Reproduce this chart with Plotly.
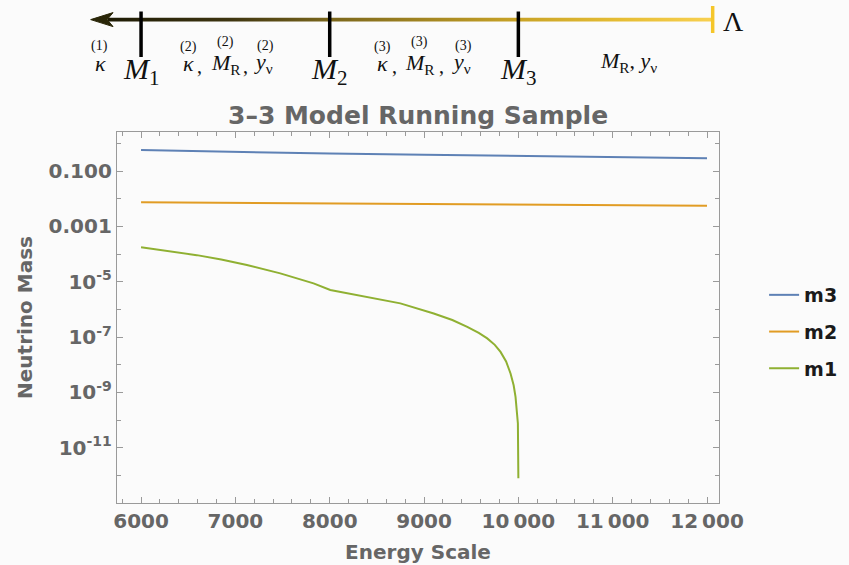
import plotly.graph_objects as go

# ---------------- data ----------------
energy_coarse = [6000, 7000, 8000, 9000, 10000, 11000, 12000]
m3_values = [0.574, 0.490, 0.427, 0.389, 0.355, 0.316, 0.288]
m2_values = [0.00736, 0.00700, 0.00660, 0.00630, 0.00600, 0.00580, 0.00556]

energy_m1 = [6000, 6300, 6591, 6850, 7122, 7476, 7829, 8006, 8396, 8749, 9103, 9300,
             9458, 9580, 9670, 9750, 9811, 9870, 9917, 9950, 9970, 9985, 9995, 10000]
m1_values = [1.74e-4, 1.26e-4, 9.1e-5, 6.3e-5, 4.0e-5, 2.0e-5, 8.7e-6, 5.0e-6,
             2.84e-6, 1.64e-6, 7.1e-7, 4.1e-7, 2.34e-7, 1.4e-7, 8.9e-8, 5.2e-8,
             2.9e-8, 1.3e-8, 4.8e-9, 1.8e-9, 6.9e-10, 2.4e-10, 7.5e-11, 7.8e-13]

series_names = ["m3", "m2", "m1"]
series_colors = ["#5e81b5", "#e19c24", "#8fb032"]

y_major_vals = [1e-1, 1e-3, 1e-5, 1e-7, 1e-9, 1e-11]
y_major_text = ["0.100", "0.001", "10<sup>-5</sup>", "10<sup>-7</sup>",
                "10<sup>-9</sup>", "10<sup>-11</sup>"]
y_minor_vals = [1, 1e-2, 1e-4, 1e-6, 1e-8, 1e-10, 1e-12]
x_tick_vals = [6000, 7000, 8000, 9000, 10000, 11000, 12000]
x_tick_text = ["6000", "7000", "8000", "9000", "10\u2009000", "11\u2009000", "12\u2009000"]

# scale diagram (threshold positions on the energy axis)
thresholds = [6000, 8000, 10000]
threshold_labels = ["<i>M</i><sub>1</sub>", "<i>M</i><sub>2</sub>", "<i>M</i><sub>3</sub>"]
cutoff_pos = 12060
arrow_tip = 5466

# ---------------- layout geometry ----------------
W, H = 849, 565
plot_left, plot_right = 117, 719
plot_top, plot_bottom = 132, 503
x_range = [5745, 12127]
scale = (plot_right - plot_left) / (x_range[1] - x_range[0])
x2_range = [x_range[0] - plot_left / scale, x_range[1] + (W - plot_right) / scale]
area_h = plot_bottom  # margin bottom = H - plot_bottom, top = 0
gray = "#666666"
frame = "#9a9a9a"

fig = go.Figure()

traces = [(energy_coarse, m3_values), (energy_coarse, m2_values), (energy_m1, m1_values)]
for (xs, ys), name, col in zip(traces, series_names, series_colors):
    fig.add_trace(go.Scatter(x=xs, y=ys, name=name, mode="lines",
                             line=dict(color=col, width=2),
                             legendgroup=name))

# ---- scale diagram on top ----
shaft_y0, shaft_y1 = 17.8, 21.4
fig.add_trace(go.Scatter(
    x=[arrow_tip + 180, cutoff_pos, cutoff_pos, arrow_tip + 180, arrow_tip + 180],
    y=[shaft_y0, shaft_y0, shaft_y1, shaft_y1, shaft_y0],
    xaxis="x2", yaxis="y2", mode="lines", fill="toself",
    line=dict(width=0, color="rgba(0,0,0,0)"),
    fillgradient=dict(type="horizontal",
                      colorscale=[[0, "#1e1b05"], [0.2, "#3d3410"], [0.365, "#7a661c"],
                                  [0.68, "#c9a326"], [0.85, "#e6bd34"], [1, "#f8d050"]]),
    showlegend=False, hoverinfo="skip"))
# arrowhead
fig.add_trace(go.Scatter(
    x=[arrow_tip, arrow_tip + 237, arrow_tip + 175, arrow_tip + 237, arrow_tip],
    y=[19.6, 12.6, 19.6, 26.6, 19.6],
    xaxis="x2", yaxis="y2", mode="lines", fill="toself", fillcolor="#2a2608",
    line=dict(width=1, color="#2a2608"), showlegend=False, hoverinfo="skip"))
# threshold ticks
for tpos in thresholds:
    fig.add_trace(go.Scatter(x=[tpos, tpos], y=[11.5, 57], xaxis="x2", yaxis="y2",
                             mode="lines", line=dict(color="black", width=3.5),
                             showlegend=False, hoverinfo="skip"))
# cutoff bar
fig.add_trace(go.Scatter(x=[cutoff_pos, cutoff_pos], y=[6, 33], xaxis="x2", yaxis="y2",
                         mode="lines", line=dict(color="#f5c62a", width=3.5),
                         showlegend=False, hoverinfo="skip"))

serif = "Liberation Serif"
ann = []
def t(x, y, text, size):
    ann.append(dict(x=x, y=y, xref="x2", yref="y2", text=text, showarrow=False,
                    font=dict(family=serif, size=size, color="#111111"),
                    xanchor="center", yanchor="middle"))

for pos, lab in zip(thresholds, threshold_labels):
    t(pos, 71, lab, 30)
t(cutoff_pos + 225, 21, "Λ", 28)
# region labels
t(5575, 63, "<i>κ</i>", 22)
t(5560, 46, "(1)", 14)
for (k, c1, m, c2, yv), n in [((6498, 6620, 6900, 7112, 7293), "2"),
                              ((8564, 8687, 8957, 9180, 9392), "3")]:
    t(k, 63, "<i>κ</i>", 22)
    t(c1, 66, ",", 20)
    t(m, 64, "<i>M</i><sub>R</sub>", 22)
    t(c2, 66, ",", 20)
    t(yv, 63, "<i>y</i><sub>ν</sub>", 22)
    t(k, 47, "(" + n + ")", 14)
    t(m - 10, 42, "(" + n + ")", 14)
    t(yv + 30, 46, "(" + n + ")", 14)
t(11163, 62, "<i>M</i><sub>R</sub>, <i>y</i><sub>ν</sub>", 22)

# title
ann.append(dict(x=(plot_left + plot_right) / 2 / W, y=(area_h - 116) / area_h,
                xref="paper", yref="paper", text="<b>3–3 Model Running Sample</b>",
                showarrow=False, font=dict(family="DejaVu Sans", size=25, color=gray),
                xanchor="center", yanchor="middle"))

fig.update_layout(
    width=W, height=H,
    margin=dict(l=0, r=0, t=0, b=H - plot_bottom, pad=0),
    paper_bgcolor="#fbfbfb", plot_bgcolor="#fbfbfb",
    font=dict(family="DejaVu Sans", color=gray),
    annotations=ann,
    xaxis=dict(domain=[plot_left / W, plot_right / W], range=x_range, anchor="y",
               automargin=False,
               tickvals=x_tick_vals, ticktext=x_tick_text,
               ticks="inside", ticklen=6, tickwidth=1, tickcolor=frame,
               minor=dict(dtick=200, tick0=0, ticks="inside", ticklen=4, tickcolor=frame),
               showline=True, linecolor=frame, linewidth=1.3, mirror="ticks",
               showgrid=False, zeroline=False,
               tickfont=dict(family="DejaVu Sans", size=20, color=gray, weight="bold"),
               title=dict(text="<b>Energy Scale</b>", standoff=12,
                          font=dict(family="DejaVu Sans", size=20, color=gray))),
    yaxis=dict(domain=[0, (plot_bottom - plot_top) / area_h], type="log",
               range=[-13, 0.41], anchor="x", automargin=False,
               tickvals=y_major_vals, ticktext=y_major_text,
               ticks="inside", ticklen=6, tickwidth=1, tickcolor=frame,
               minor=dict(tickvals=y_minor_vals, ticks="inside", ticklen=4, tickcolor=frame),
               showline=True, linecolor=frame, linewidth=1.3, mirror="ticks",
               showgrid=False, zeroline=False,
               tickfont=dict(family="DejaVu Sans", size=20, color=gray, weight="bold"),
               title=dict(text="<b>Neutrino Mass</b>", standoff=10,
                          font=dict(family="DejaVu Sans", size=20, color=gray))),
    xaxis2=dict(domain=[0, 1], range=x2_range, anchor="y2", visible=False),
    yaxis2=dict(domain=[(area_h - 100) / area_h, 1], range=[100, 0], anchor="x2",
                visible=False),
    legend=dict(x=0.9, y=(area_h - 276) / area_h, xanchor="left", yanchor="top",
                bgcolor="rgba(0,0,0,0)", tracegroupgap=9,
                font=dict(family="DejaVu Sans", size=19, color="#1a1a1a", weight="bold")),
    showlegend=True,
)

fig.write_html("out.html", config={"displayModeBar": False},
               post_script="document.body.style.margin='0px';"
                           "document.body.style.overflow='hidden';")
